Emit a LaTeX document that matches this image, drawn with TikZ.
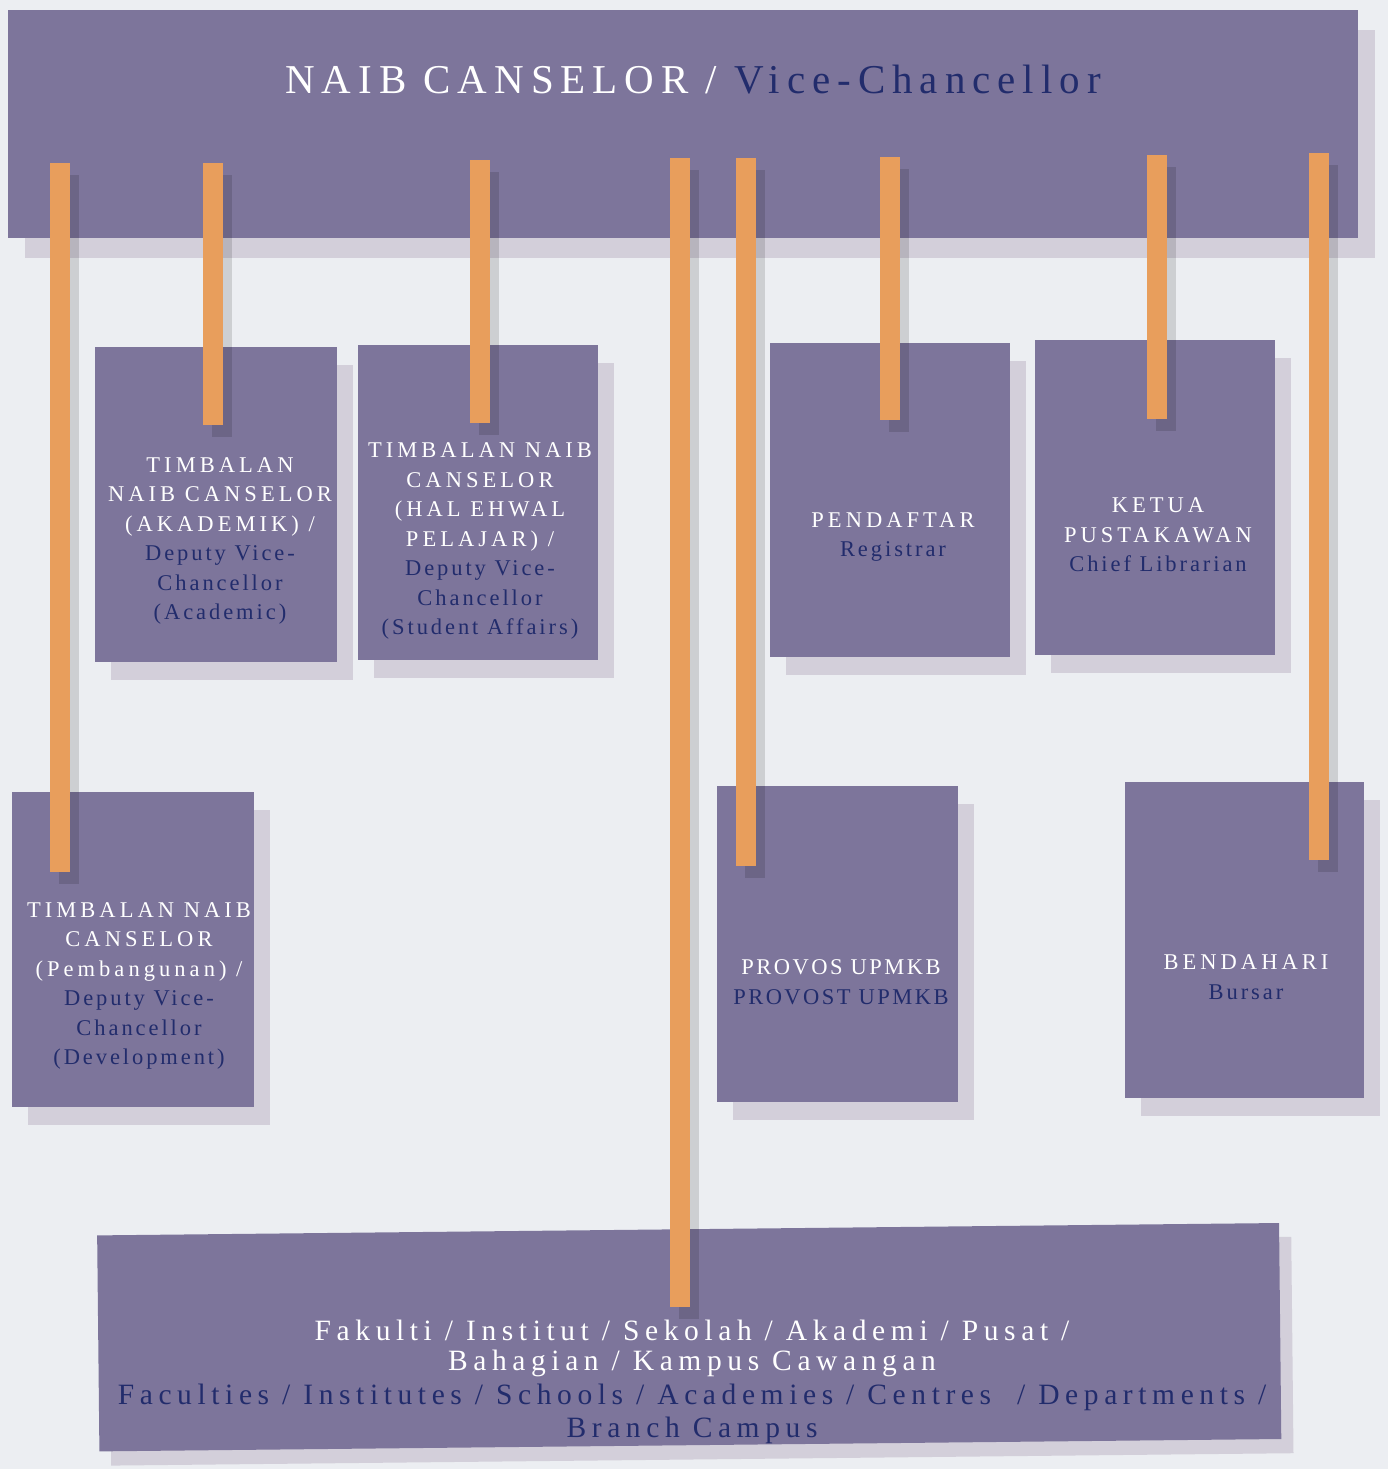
\documentclass[tikz,border=0pt]{standalone}
\usepackage{fontspec}
\setmainfont{Liberation Serif}
\newfontfamily\titlefont[LetterSpace=17]{Liberation Serif}
\newfontfamily\capfont[LetterSpace=18]{Liberation Serif}
\newfontfamily\lowfont[LetterSpace=13]{Liberation Serif}
\newfontfamily\provfont[LetterSpace=11]{Liberation Serif}
\newfontfamily\botfont[LetterSpace=19]{Liberation Serif}
\definecolor{bgc}{RGB}{236,238,242}
\definecolor{boxc}{RGB}{125,117,155}
\definecolor{shadowc}{RGB}{211,207,218}
\definecolor{barc}{RGB}{232,158,92}
\definecolor{navy}{RGB}{34,44,108}
\pgfdeclarelayer{bglayer}
\pgfdeclarelayer{shadowlayer}
\pgfsetlayers{bglayer,shadowlayer,main}
\tikzset{
  box/.style={rectangle, fill=boxc, draw=none, inner sep=0pt, anchor=north west},
  boxtext/.style={align=center, text=white, font=\capfont\fontsize{22.5}{29.5}\selectfont, inner sep=0pt},
  bottext/.style={anchor=base, inner sep=0pt, font=\botfont\fontsize{29.5}{33}\selectfont},
  barline/.style={draw=barc, line width=20pt},
  barshadow/.style={draw=black, opacity=0.13, line width=20pt},
}
\newcommand{\nv}[1]{{\lowfont\color{navy}#1}}
\begin{document}
\begin{tikzpicture}[x=1pt,y=-1pt]
\begin{pgfonlayer}{bglayer}
\fill[bgc] (0,0) rectangle (1388,1469);
\end{pgfonlayer}
\useasboundingbox (0,0) rectangle (1388,1469);

% boxes
\node[box, minimum width=1350pt, minimum height=228pt] (vc) at (8,10) {};
\node[box, minimum width=242pt, minimum height=315pt] (akad) at (95,347) {};
\node[box, minimum width=240pt, minimum height=315pt] (hep) at (358,345) {};
\node[box, minimum width=240pt, minimum height=314pt] (reg) at (770,343) {};
\node[box, minimum width=240pt, minimum height=315pt] (lib) at (1035,340) {};
\node[box, minimum width=242pt, minimum height=315pt] (dev) at (12,792) {};
\node[box, minimum width=241pt, minimum height=316pt] (prov) at (717,786) {};
\node[box, minimum width=239pt, minimum height=316pt] (bur) at (1125,782) {};
\begin{scope}[rotate around={0.6:(689,1335)}, transform shape]
\node[box, minimum width=1182pt, minimum height=216pt] (fac) at (98,1229) {};
\end{scope}
\node[bottext, text=white] (fact1) at (692,1340) {Fakulti / Institut / Sekolah / Akademi / Pusat /};
\node[bottext, text=white] (fact2) at (692,1370) {Bahagian / Kampus Cawangan};
\node[bottext, text=navy] (fact3) at (692,1404) {Faculties / Institutes / Schools / Academies / Centres\ \ / Departments /};
\node[bottext, text=navy] (fact4) at (692,1437) {Branch Campus};

% shadows
\begin{pgfonlayer}{shadowlayer}
\fill[shadowc] ([shift={(17,20)}]vc.north west) rectangle ([shift={(17,20)}]vc.south east);
\foreach \n in {akad,hep,reg,lib,dev,prov,bur}
  \fill[shadowc] ([shift={(16,18)}]\n.north west) rectangle ([shift={(16,18)}]\n.south east);
\fill[shadowc] ([shift={(12,14)}]fac.north west) -- ([shift={(12,14)}]fac.north east) -- ([shift={(12,14)}]fac.south east) -- ([shift={(12,14)}]fac.south west) -- cycle;
\end{pgfonlayer}

% texts
\node[font=\titlefont\fontsize{41}{48}\selectfont, text=white, inner sep=0pt] (vct) at (693,80) {NAIB CANSELOR / {\color{navy}Vice-Chancellor}};
\node[boxtext] (akadt) at (220,541) {TIMBALAN\\NAIB CANSELOR\\(AKADEMIK) /\\\nv{Deputy Vice-}\\\nv{Chancellor}\\\nv{(Academic)}};
\node[boxtext] (hept) at (480,541) {TIMBALAN NAIB\\CANSELOR\\(HAL EHWAL\\PELAJAR) /\\\nv{Deputy Vice-}\\\nv{Chancellor}\\\nv{(Student Affairs)}};
\node[boxtext] (regt) at (893,537) {PENDAFTAR\\\nv{Registrar}};
\node[boxtext] (libt) at (1158,535) {KETUA\\PUSTAKAWAN\\\nv{Chief Librarian}};
\node[boxtext] (devt) at (139,986) {TIMBALAN NAIB\\CANSELOR\\(Pembangunan) /\\\nv{Deputy Vice-}\\\nv{Chancellor}\\\nv{(Development)}};
\node[boxtext, font=\provfont\fontsize{22.5}{29.5}\selectfont] (provt) at (841,982) {PROVOS UPMKB\\{\color{navy}PROVOST UPMKB}};
\node[boxtext] (burt) at (1246,977) {BENDAHARI\\\nv{Bursar}};

% bar coordinates
\coordinate (b1s) at (60,163);   \coordinate (b1e) at (60,872);
\coordinate (b2s) at (213,163);  \coordinate (b2e) at (213,425);
\coordinate (b3s) at (480,160);  \coordinate (b3e) at (480,423);
\coordinate (b4s) at (680,158);  \coordinate (b4e) at (680,1307);
\coordinate (b5s) at (746,158);  \coordinate (b5e) at (746,866);
\coordinate (b6s) at (890,157);  \coordinate (b6e) at (890,420);
\coordinate (b7s) at (1157,155); \coordinate (b7e) at (1157,419);
\coordinate (b8s) at (1319,153); \coordinate (b8e) at (1319,860);

\foreach \i in {1,...,8}
  \draw[barshadow] ([shift={(9,12)}]b\i s) -- ([shift={(9,12)}]b\i e);
\foreach \i in {1,...,8}
  \draw[barline] (b\i s) -- (b\i e);
\end{tikzpicture}
\end{document}
